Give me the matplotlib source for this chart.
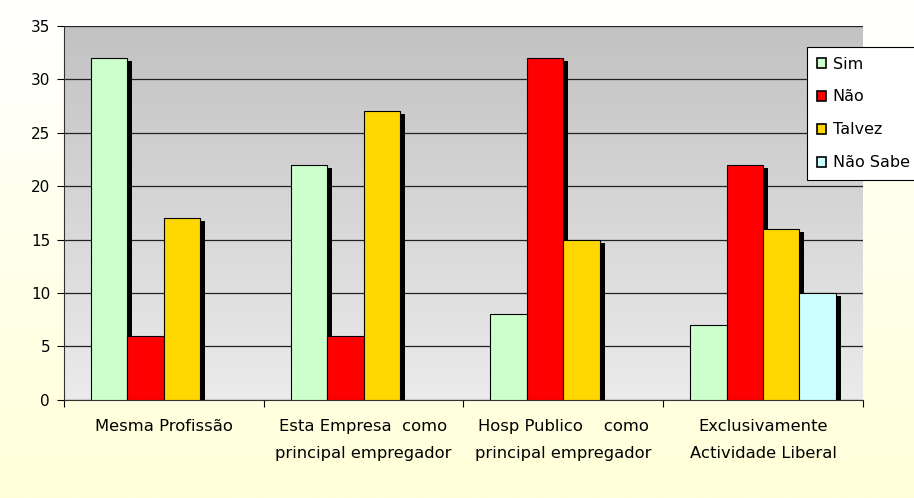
import numpy as np
import matplotlib.pyplot as plt
import matplotlib.patheffects as pe
from matplotlib.colors import LinearSegmentedColormap

plt.rcParams['font.family'] = ['DejaVu Sans']

categories = ["Mesma Profissão",
              "Esta Empresa  como\nprincipal empregador",
              "Hosp Publico    como\nprincipal empregador",
              "Exclusivamente\nActividade Liberal"]
series = ["Sim", "Não", "Talvez", "Não Sabe"]
sim = [32, 22, 8, 7]
nao = [6, 6, 32, 22]
talvez = [17, 27, 15, 16]
nao_sabe = [0, 0, 0, 10]
colors = ["#CCFFCC", "#FF0000", "#FFD700", "#CCFFFF"]

fig = plt.figure(figsize=(9.14, 4.98), dpi=100)

# page background: white fading to pale yellow
bg = fig.add_axes([0, 0, 1, 1], zorder=-10)
bg.imshow(np.linspace(0, 1, 256).reshape(-1, 1), aspect='auto',
          cmap=LinearSegmentedColormap.from_list('bg', ['#FFFFFF', '#FFFFD8']),
          extent=[0, 1, 0, 1], origin='upper')
bg.axis('off')

ax = fig.add_axes([0.070, 0.197, 0.874, 0.751])
ax.set_xlim(-0.5, 3.5)
ax.set_ylim(0, 35)

# plot area: grey gradient, darker at the top
ax.imshow(np.linspace(0, 1, 256).reshape(-1, 1), aspect='auto',
          cmap=LinearSegmentedColormap.from_list('pa', ['#C2C2C2', '#EBEBEB']),
          extent=[-0.5, 3.5, 0, 35], origin='upper', zorder=0)

x = np.arange(len(categories))
width = 0.1825
shadow = [pe.SimplePatchShadow(offset=(3.6, -2.2), shadow_rgbFace='black', alpha=1.0),
          pe.Normal()]
for i, (name, vals) in enumerate(zip(series, [sim, nao, talvez, nao_sabe])):
    xs = x + (i - 2) * width
    keep = [j for j, v in enumerate(vals) if v > 0]
    bars = ax.bar(xs[keep], [vals[j] for j in keep], width, align='edge',
                  color=colors[i], edgecolor='black', linewidth=0.8,
                  zorder=3, label=name)
    for b in bars:
        b.set_path_effects(shadow)

ax.set_yticks(range(0, 36, 5))
ax.grid(axis='y', color='#222222', linewidth=0.9)
for line in ax.get_ygridlines():
    line.set_zorder(1)

ax.set_xticks(x)
ax.set_xticklabels(categories, fontsize=11.8, linespacing=1.95)
ax.set_xticks(np.arange(-0.5, 4, 1), minor=True)
ax.tick_params(axis='x', which='major', length=0, pad=14)
ax.tick_params(axis='x', which='minor', length=5, width=0.8, direction='out')
ax.tick_params(axis='y', labelsize=11, length=5, width=0.8, pad=5)

for s in ['top', 'right']:
    ax.spines[s].set_visible(False)
for s in ['left', 'bottom']:
    ax.spines[s].set_linewidth(0.8)
    ax.spines[s].set_color('#333333')

# legend handles: small squares
handles = [plt.Rectangle((0, 0), 1, 1, facecolor=c, edgecolor='black', linewidth=1.2)
           for c in colors]
leg = fig.legend(handles, series, loc='upper left',
                 bbox_to_anchor=(807 / 914, 1 - 47 / 498),
                 fontsize=11.5, frameon=True, fancybox=False, framealpha=1,
                 edgecolor='black', handlelength=0.6, handleheight=0.6,
                 handletextpad=0.4, labelspacing=1.12, borderpad=0.6,
                 borderaxespad=0)
leg.get_frame().set_linewidth(0.8)

fig.savefig("out.png", dpi=100)
